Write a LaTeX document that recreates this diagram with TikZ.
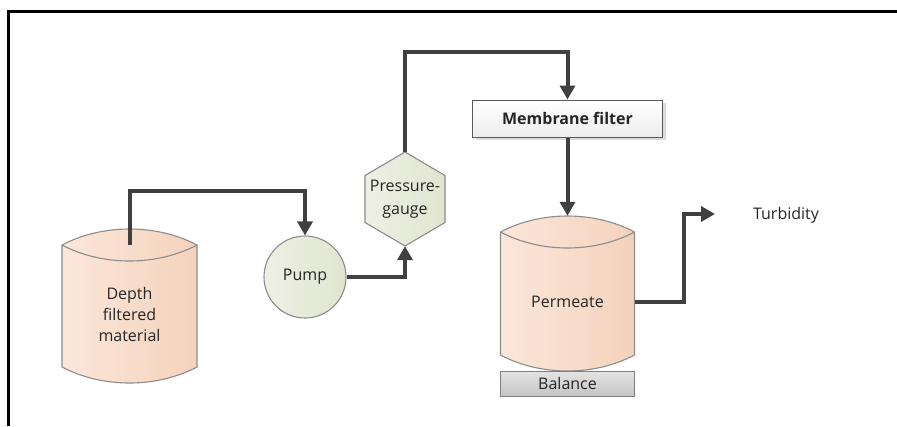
\documentclass[tikz,border=0pt]{standalone}
\usepackage{fontspec}
\setmainfont{Open Sans}
\usetikzlibrary{arrows.meta,shadows}
\definecolor{pipec}{HTML}{404040}
\definecolor{txtc}{HTML}{262626}
\definecolor{tankL}{HTML}{FBE7DA}
\definecolor{tankR}{HTML}{F4D2BC}
\definecolor{tankE}{HTML}{8C8C8C}
\definecolor{grnL}{HTML}{EEF0E4}
\definecolor{grnR}{HTML}{E0E5D0}
\definecolor{memE}{HTML}{595959}
\definecolor{balT}{HTML}{E4E4E4}
\definecolor{balB}{HTML}{C4C4C4}
\tikzset{
  txt/.style={font=\fontsize{16pt}{21pt}\selectfont, text=txtc, align=center, inner sep=0pt},
  holder/.style={txt, rectangle},
  tankbody/.style={draw=tankE, line width=1.1pt, left color=tankL, right color=tankR},
  tankline/.style={draw=tankE, line width=1.1pt},
  greenbody/.style={draw=tankE, line width=1.1pt, left color=grnL, right color=grnR},
  membox/.style={txt, rectangle, draw=memE, line width=1pt, top color=white, bottom color=black!7,
    minimum width=190pt, minimum height=37pt,
    drop shadow={shadow xshift=3pt, shadow yshift=-3pt, fill=black!14, opacity=1}},
  balbox/.style={txt, rectangle, draw=black!50, line width=1pt, top color=balT, bottom color=balB,
    minimum width=134pt, minimum height=25pt},
  pipe/.style={draw=pipec, line width=4pt, line join=miter},
  pipearrow/.style={pipe, -{Triangle[length=14pt,width=15pt]}}
}
\newcommand\drawtank[5]{%
  \path[tankbody] (#1,#3) .. controls ({#1+0.3*(#2-#1)},{#3-4*#5/3}) and ({#2-0.3*(#2-#1)},{#3-4*#5/3}) .. (#2,#3)
     -- (#2,#4) .. controls ({#2-0.3*(#2-#1)},{#4+4*#5/3}) and ({#1+0.3*(#2-#1)},{#4+4*#5/3}) .. (#1,#4) -- cycle;
  \draw[tankline] (#1,#3) .. controls ({#1+0.3*(#2-#1)},{#3+4*#5/3}) and ({#2-0.3*(#2-#1)},{#3+4*#5/3}) .. (#2,#3);
}
\begin{document}
\begin{tikzpicture}[x=1pt,y=-1pt]
\useasboundingbox (0,0) rectangle (897,426);
% frame
\draw[line width=3pt, line join=miter] (8.5,426) -- (8.5,11.5) -- (897,11.5);
% tanks
\drawtank{62}{197}{245}{367}{16}
\drawtank{500.5}{634.5}{232}{355}{16}
\node[holder, minimum width=135pt, minimum height=138pt] (depth) at (129.5,314) {Depth\\filtered\\material};
\node[holder, minimum width=134pt, minimum height=172pt] (perm) at (567.5,302) {Permeate};
% pump
\node[txt, circle, greenbody, minimum size=82pt] (pump) at (305,277) {Pump};
% pressure gauge
\path[greenbody] (405,152) -- (445,175.5) -- (445,222.5) -- (405,246) -- (365,222.5) -- (365,175.5) -- cycle;
\node[holder, font=\fontsize{16pt}{23pt}\selectfont, minimum width=80pt, minimum height=94pt] (gauge) at (405,199) {Pressure-\\gauge};
% membrane filter
\node[membox] (mem) at (567.5,118.5) {\bfseries Membrane filter};
% balance
\node[balbox] (bal) at (567.5,383.5) {Balance};
% turbidity
\node[txt] (turb) at (786,215) {Turbidity};
\coordinate (turbend) at (715,214);
% pipes
\draw[pipearrow] (depth.north) -- ++(0,-53.5) -| (pump.north);
\draw[pipearrow] (pump.east) -| (gauge.south);
\draw[pipearrow] (gauge.north) -- ++(0,-100) -| (mem.north);
\draw[pipearrow] (mem.south) -- (perm.north);
\draw[pipearrow] (perm.east) -- ++(49.5,0) |- (turbend);
\end{tikzpicture}
\end{document}
